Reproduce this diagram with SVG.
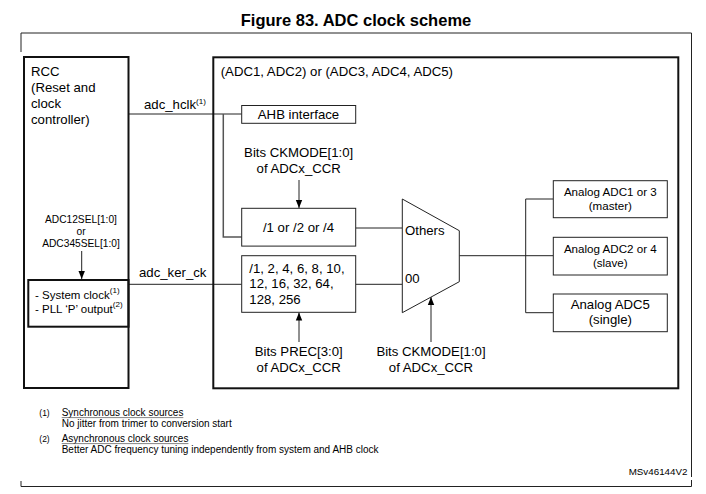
<svg xmlns="http://www.w3.org/2000/svg" width="706" height="494" viewBox="0 0 706 494">
<style>
text{font-family:"Liberation Sans",Arial,sans-serif;fill:#000}
.m{font-size:13.2px}
.s{font-size:11.6px}
.f{font-size:10px}
.c{text-anchor:middle}
.sup{font-size:8px}
.box{fill:#fff;stroke:#222;stroke-width:1}
.thick{fill:none;stroke:#111;stroke-width:2}
.ln{fill:none;stroke:#222;stroke-width:1}
.gl{fill:none;stroke:#555;stroke-width:1.5}
</style>
<defs>
<marker id="ah" viewBox="0 0 8 8" refX="8" refY="4" markerWidth="8" markerHeight="8" markerUnits="userSpaceOnUse" orient="auto">
<path d="M0,0.8 L8,4 L0,7.2 Z" fill="#000"/>
</marker>
</defs>

<text x="356" y="26" style="font-size:16.5px;font-weight:bold" class="c">Figure 83. ADC clock scheme</text>

<g id="frame">
<path class="ln" d="M21,52 V33 H691.5 V477"/>
<path class="ln" d="M21,481 V486.5 H691.5 V480"/>
</g>

<g id="connectors">
<path class="ln" d="M129,114 H241.7"/>
<path class="gl" d="M223.3,114 V237 H241.7"/>
<path class="ln" d="M129,284.3 H241.7"/>
<path class="ln" d="M355.7,228 H402.3"/>
<path class="ln" d="M355.7,284.3 H402.3"/>
<path class="ln" d="M459.3,255.7 H553.3"/>
<path class="ln" d="M553.3,199 H525.7 V312.7 H553.3"/>
<path class="ln" d="M81.7,251 V279" marker-end="url(#ah)"/>
<path class="ln" d="M299,180 V208" marker-end="url(#ah)"/>
<path class="ln" d="M299,342 V312.5" marker-end="url(#ah)"/>
<path class="ln" d="M431,342 V297" marker-end="url(#ah)"/>
<text x="144" y="109" class="m">adc_hclk<tspan class="sup" dy="-5">(1)</tspan></text>
<text x="139" y="277" class="m">adc_ker_ck</text>
</g>

<g id="rcc">
<rect x="24" y="57" width="104.5" height="331" class="thick"/>
<text class="m" x="31" y="76">RCC</text>
<text class="m" x="31" y="92">(Reset and</text>
<text class="m" x="31" y="108">clock</text>
<text class="m" x="31" y="124">controller)</text>
<text x="81" y="223" class="c" style="font-size:10.2px">ADC12SEL[1:0]</text>
<text x="81" y="234.5" class="c" style="font-size:10.2px">or</text>
<text x="81" y="246.7" class="c" style="font-size:10.2px">ADC345SEL[1:0]</text>
</g>

<g id="clksrc">
<rect x="28.3" y="280" width="100.2" height="46.7" class="thick"/>
<text x="35" y="299.3" style="font-size:11.5px">- System clock<tspan class="sup" dy="-6">(1)</tspan></text>
<text x="35" y="312.7" style="font-size:11.5px">- PLL ‘P’ output<tspan class="sup" dy="-6">(2)</tspan></text>
</g>

<g id="adc">
<rect x="213.3" y="57.3" width="465" height="331" class="thick"/>
<text class="m" x="220.7" y="76">(ADC1, ADC2) or (ADC3, ADC4, ADC5)</text>
</g>

<g id="ahb">
<rect x="241.7" y="105.5" width="114" height="17.8" class="box"/>
<text class="m c" x="298.5" y="118.5">AHB interface</text>
</g>

<g id="ckmode1">
<text class="m c" x="298.7" y="157.3">Bits CKMODE[1:0]</text>
<text class="m c" x="298.7" y="173.3">of ADCx_CCR</text>
</g>

<g id="div1">
<rect x="241.7" y="208.3" width="114" height="37.8" class="box"/>
<text class="m c" x="298.5" y="231.5">/1 or /2 or /4</text>
</g>

<g id="prescaler">
<rect x="241.7" y="255.7" width="114" height="56.6" class="box"/>
<text class="m" x="249.3" y="272.5">/1, 2, 4, 6, 8, 10,</text>
<text class="m" x="249.3" y="288.3">12, 16, 32, 64,</text>
<text class="m" x="249.3" y="304">128, 256</text>
</g>

<g id="prec">
<text class="m c" x="298.7" y="356">Bits PREC[3:0]</text>
<text class="m c" x="298.7" y="371.7">of ADCx_CCR</text>
</g>

<g id="mux">
<path d="M402.3,199 L459.3,230.7 V281.7 L402.3,312.7 Z" class="box"/>
<text class="m" x="405" y="235">Others</text>
<text class="m" x="405" y="282.7">00</text>
</g>

<g id="ckmode2">
<text class="m c" x="431" y="356">Bits CKMODE[1:0]</text>
<text class="m c" x="431" y="371.7">of ADCx_CCR</text>
</g>

<g id="adc1">
<rect x="553.3" y="180.7" width="114" height="37" class="box"/>
<text class="s c" x="610.3" y="196">Analog ADC1 or 3</text>
<text class="s c" x="610.3" y="209.5">(master)</text>
</g>
<g id="adc2">
<rect x="553.3" y="237.3" width="114" height="37.7" class="box"/>
<text class="s c" x="610.3" y="252.7">Analog ADC2 or 4</text>
<text class="s c" x="610.3" y="266.5">(slave)</text>
</g>
<g id="adc5">
<rect x="553.3" y="294" width="114" height="37.7" class="box"/>
<text class="m c" x="610.3" y="308.5">Analog ADC5</text>
<text class="m c" x="610.3" y="323.5">(single)</text>
</g>

<g id="notes">
<text x="39.3" y="415.7" style="font-size:8.5px">(1)</text>
<text x="61.7" y="415.7" class="f">Synchronous clock sources</text>
<line x1="61.7" y1="417.6" x2="183.3" y2="417.6" stroke="#666" stroke-width="0.8"/>
<text x="61.7" y="427" class="f">No jitter from trimer to conversion start</text>
<text x="39.3" y="441.7" style="font-size:8.5px">(2)</text>
<text x="61.7" y="441.7" class="f">Asynchronous clock sources</text>
<line x1="61.7" y1="443.6" x2="188.4" y2="443.6" stroke="#666" stroke-width="0.8"/>
<text x="61.7" y="453" class="f">Better ADC frequency tuning independently from system and AHB clock</text>
<text x="687.5" y="475" style="font-size:9.8px;text-anchor:end">MSv46144V2</text>
</g>
</svg>
